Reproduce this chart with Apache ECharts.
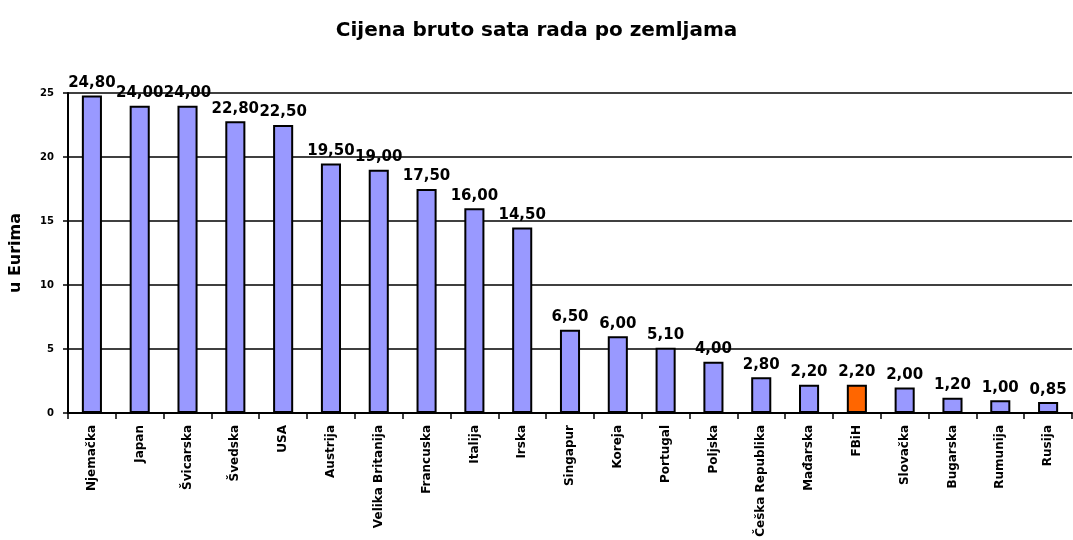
<!DOCTYPE html>
<html>
<head>
<meta charset="utf-8">
<script src="https://cdn.jsdelivr.net/npm/echarts@6/dist/echarts.min.js"></script>
<style>html,body{margin:0;padding:0;background:#fff}#c{width:1073px;height:540px}</style>
</head>
<body>
<div id="c"></div>
<script>
var titleText = 'Cijena bruto sata rada po zemljama';
var yAxisName = 'u Eurima';
var categories = ['Njemačka','Japan','Švicarska','Švedska','USA','Austrija','Velika Britanija','Francuska','Italija','Irska','Singapur','Koreja','Portugal','Poljska','Češka Republika','Mađarska','FBiH','Slovačka','Bugarska','Rumunija','Rusija'];
var values = [24.80,24.00,24.00,22.80,22.50,19.50,19.00,17.50,16.00,14.50,6.50,6.00,5.10,4.00,2.80,2.20,2.20,2.00,1.20,1.00,0.85];
var highlightCategory = 'FBiH';
var yMin = 0, yMax = 25, yInterval = 5;

var FONT = '"DejaVu Sans", Arial, sans-serif';
var chart = echarts.init(document.getElementById('c'), null, {renderer:'canvas'});
var data = values.map(function(v,i){
  return categories[i] === highlightCategory ? {value:v, itemStyle:{color:'#FF6600'}} : v;
});
chart.setOption({
  animation:false,
  backgroundColor:'#ffffff',
  title:{text:titleText,left:'center',top:16,textStyle:{fontFamily:FONT,fontWeight:'bold',fontSize:20,color:'#000'}},
  grid:{left:67,right:1,top:93,bottom:127,containLabel:false},
  xAxis:{type:'category',data:categories,
    axisLine:{show:true,lineStyle:{color:'#000',width:2}},
    axisTick:{show:true,alignWithLabel:false,length:6,lineStyle:{color:'#000',width:1.5}},
    axisLabel:{rotate:90,interval:0,margin:12,fontFamily:FONT,fontWeight:'bold',fontSize:12,color:'#000'}},
  yAxis:{type:'value',min:yMin,max:yMax,interval:yInterval,
    name:yAxisName,nameLocation:'middle',nameGap:44,nameRotate:90,
    nameTextStyle:{fontFamily:FONT,fontWeight:'bold',fontSize:16,color:'#000'},
    axisLine:{show:true,lineStyle:{color:'#000',width:2}},
    axisTick:{show:true,length:5,lineStyle:{color:'#000',width:1.5}},
    splitLine:{show:true,lineStyle:{color:'#000',width:1.5}},
    axisLabel:{margin:14,fontFamily:FONT,fontWeight:'bold',fontSize:10,color:'#000'}},
  series:[{type:'bar',data:data,barWidth:'42%',
    itemStyle:{color:'#9999FF',borderColor:'#000',borderWidth:2},
    label:{show:true,position:'top',distance:5,fontFamily:FONT,fontWeight:'bold',fontSize:15,color:'#000',
      formatter:function(p){return p.value.toFixed(2).replace('.',',');}}}]
});
</script>
</body>
</html>
